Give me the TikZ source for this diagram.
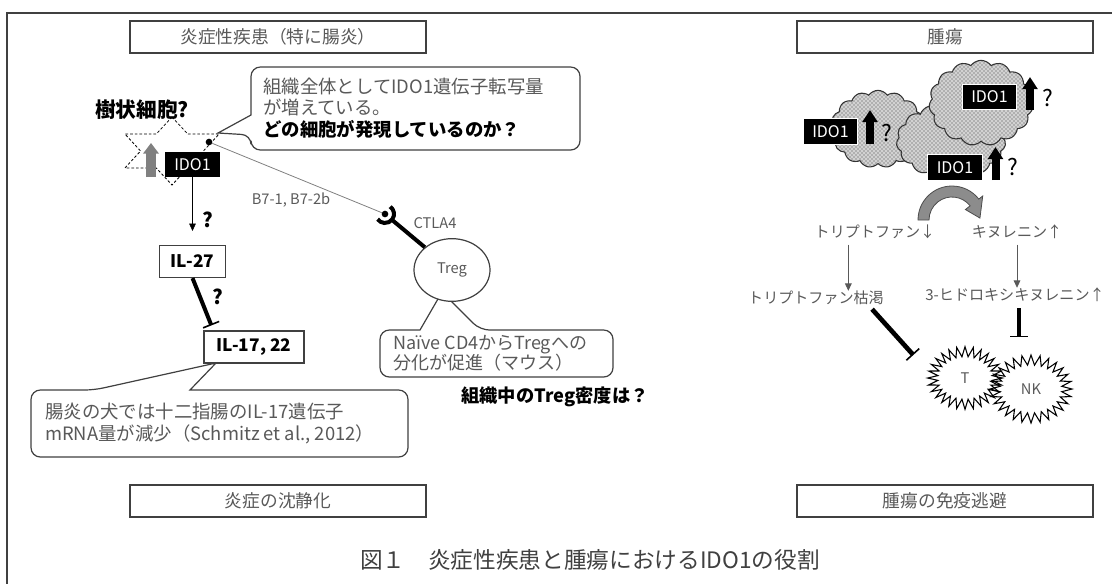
\documentclass[tikz,border=0pt]{standalone}
\usepackage{fontspec}
\setmainfont{Noto Sans CJK JP}
\usetikzlibrary{arrows.meta,calc,patterns,shapes.geometric,shapes.symbols}
\definecolor{txtgray}{HTML}{595959}
\definecolor{framegray}{HTML}{404040}

\begin{document}
\begin{tikzpicture}[x=0.75pt,y=-0.75pt,>={Triangle[width=5pt,length=5.5pt]},
    headbox/.style={draw=framegray,line width=1pt,minimum width=222pt,minimum height=24pt,text=txtgray,font=\fontsize{13.3}{16}\selectfont},
    ido/.style={fill=black,text=white,minimum width=41pt,minimum height=19pt,inner sep=0pt,font=\fontsize{12}{14}\selectfont},
    ilbox/.style={draw=framegray,line width=0.9pt,fill=white,minimum height=24pt,inner sep=0pt,font=\bfseries\fontsize{13}{15}\selectfont},
    note/.style={text=txtgray,align=left,inner sep=0pt,font=\fontsize{13.8}{16}\selectfont},
    bubble/.style={draw=framegray,line width=0.9pt,fill=white,rounded corners=7pt},
    qmark/.style={inner sep=0pt,font=\bfseries\fontsize{15}{17}\selectfont},
    smalltext/.style={text=txtgray,inner sep=0pt,font=\fontsize{11}{13}\selectfont},
    dot/.style={circle,fill=black,inner sep=0pt,minimum size=5pt},
    inhibit/.style={line width=3pt,-{Bar[width=13pt,line width=1.2pt]}},
    uparrow/.style={line width=6pt,-{Triangle[width=11pt,length=9pt]}},
    tumour/.style={cloud,cloud puffs=15,cloud puff arc=110,cloud ignores aspect,draw=black!80,line width=0.8pt,preaction={fill=gray!35},pattern=crosshatch dots,pattern color=black!75},
    burst/.style={starburst,starburst points=28,starburst point height=7.5pt,random starburst=0,draw,line width=0.8pt,text=txtgray,inner sep=0pt,font=\fontsize{11}{13}\selectfont}]

  \useasboundingbox (0,0) rectangle (1112,583);
  \draw[framegray,line width=1.1pt] (7,13) rectangle (1130,600);

  % 炎症性疾患
  \node[headbox] (head-l) at (278,37) {炎症性疾患（特に腸炎）};
  \node[headbox] (foot-l) at (278,501) {炎症の沈静化};

  \node[star,star points=6,star point ratio=1.732,draw,dash pattern=on 2pt off 1.5pt,line width=0.6pt,
        minimum size=51pt,inner sep=0pt,xscale=1.6] (dc) at (172,151) {};
  \draw[uparrow,line width=7.5pt,-{Triangle[width=11.5pt,length=8pt]},gray] (151,177) -- (151,143);
  \node[ido] (ido-l) at (192.5,164.5) {IDO1};
  \node[dot] (b7) at (209,142) {};
  \node[inner sep=0pt,font=\bfseries\fontsize{15.5}{18}\selectfont] (dc-q) at (142,110) {樹状細胞?};

  \draw[bubble] (251,115) |- (580,67) |- (251,150) -- (251,135) [sharp corners] -- (218,133) -- cycle;
  \node[note,anchor=west] (dc-note) at (263,108)
    {組織全体としてIDO1遺伝子転写量\\が増えている。\\{\color{black}\bfseries どの細胞が発現しているのか？}};

  \node[ilbox,minimum width=50pt] (il27) at (192.5,261.5) {IL-27};
  \node[ilbox,minimum width=75pt] (il17) at (254,347) {IL-17, 22};
  \draw[->,shorten >=10.5pt] (ido-l) -- (il27);
  \node[qmark] (q1) at (208,220) {?};
  \draw[inhibit] (il27.south) -- ([shift={(8,-5)}]il17.north west);
  \node[qmark] (q2) at (218,297) {?};

  \draw[bubble] (190,390) -| (408,457) -| (31,390) -- (94,390) [sharp corners] -- (216,363) -- cycle;
  \node[note,anchor=west,font=\fontsize{13.8}{16.5}\selectfont] (il17-note) at (45,424)
    {腸炎の犬では十二指腸のIL-17遺伝子\\mRNA量が減少（Schmitz et al., 2012）};

  % Treg
  \node[smalltext] (b7-txt) at (291,200) {B7-1, B7-2b};
  \node[dot] (ctla) at (385,214) {};
  \draw[gray,line width=0.6pt] (b7) -- (ctla);
  \draw[line width=3pt] (ctla) ++(-55:9) arc[start angle=-55,end angle=145,radius=9];
  \node[smalltext] (ctla-txt) at (435,223) {CTLA4};

  \draw[bubble] (420,330) -| (380,377) -| (613,330) -- (480,330) [sharp corners] -- (442,292) -- cycle;
  \node[ellipse,draw=framegray,line width=0.9pt,fill=white,minimum width=57pt,minimum height=47pt,
        text=txtgray,font=\fontsize{11}{13}\selectfont] (treg) at (452,270) {Treg};
  \draw[line width=3pt] ($(ctla)!7pt!(treg)$) -- (treg);
  \node[note,anchor=west,font=\fontsize{13.5}{15}\selectfont] (treg-note) at (393,353)
    {Naïve CD4からTregへの\\分化が促進（マウス）};
  \node[inner sep=0pt,font=\bfseries\fontsize{13.7}{16}\selectfont] (treg-q) at (555,397) {組織中のTreg密度は？};

  % 腫瘍
  \node[headbox] (head-r) at (945,37) {腫瘍};
  \node[headbox] (foot-r) at (945,501) {腫瘍の免疫逃避};

  \node[tumour,minimum width=71pt,minimum height=58pt] (tc-a) at (878,129) {};
  \node[tumour,minimum width=82pt,minimum height=57pt] (tc-c) at (951,141) {};
  \node[tumour,minimum width=78pt,minimum height=64pt] (tc-b) at (981,103) {};

  \node[ido,draw=white,line width=0.8pt] (ido-a) at (830.5,131.5) {IDO1};
  \draw[uparrow] (870,144) -- (870,110);
  \node[inner sep=0pt,font=\fontsize{17}{19}\selectfont] (qa) at (887,133) {?};
  \node[ido,draw=white,line width=0.8pt] (ido-b) at (989.5,97) {IDO1};
  \draw[uparrow] (1030,110) -- (1030,77);
  \node[inner sep=0pt,font=\fontsize{17}{19}\selectfont] (qb) at (1048,98) {?};
  \node[ido,draw=white,line width=0.8pt] (ido-c) at (955,167.5) {IDO1};
  \draw[uparrow] (995.5,180) -- (995.5,147);
  \node[inner sep=0pt,font=\fontsize{17}{19}\selectfont] (qc) at (1013,167) {?};

  \begin{scope}[shift={(952,220)}]
    \filldraw[fill=gray!90,draw=black!70,line width=0.6pt]
      (180:34) arc[start angle=180,end angle=322,radius=34] -- (322:39) -- (356:28) -- (322:17) -- (322:23)
      arc[start angle=322,end angle=180,radius=23] -- cycle;
  \end{scope}

  \node[smalltext,font=\fontsize{11.3}{13}\selectfont] (trp) at (875,232) {トリプトファン↓};
  \node[smalltext,font=\fontsize{11.3}{13}\selectfont] (kyn) at (1017,232) {キヌレニン↑};
  \node[smalltext,font=\fontsize{11.3}{13}\selectfont] (depl) at (816,298) {トリプトファン枯渇};
  \node[smalltext,font=\fontsize{11.3}{13}\selectfont] (hk) at (1015,295) {3-ヒドロキシキヌレニン↑};
  \draw[->,txtgray,line width=0.6pt] ([xshift=-20pt,yshift=-4pt]trp.south) -- ([xshift=-20pt]trp.south |- depl.north);
  \draw[->,txtgray,line width=0.6pt] ([yshift=-4pt]kyn.south) -- (kyn.south |- hk.north);

  \node[burst,minimum width=56pt,minimum height=47pt] (t-cell) at (965,378) {T};
  \node[burst,minimum width=61.5pt,minimum height=51pt] (nk-cell) at (1031,389) {NK};
  \draw[inhibit,line width=3.5pt] ($(depl.south east)+(-12,4)$) -- ($(t-cell.west)+(-12,-23)$);
  \draw[inhibit,line width=3.5pt] ($(hk.south)+(4,6)$) -- ++(0,29);

  \node[text=framegray,font=\fontsize{17}{20}\selectfont] (caption) at (590,560) {図１　炎症性疾患と腫瘍におけるIDO1の役割};
\end{tikzpicture}
\end{document}
